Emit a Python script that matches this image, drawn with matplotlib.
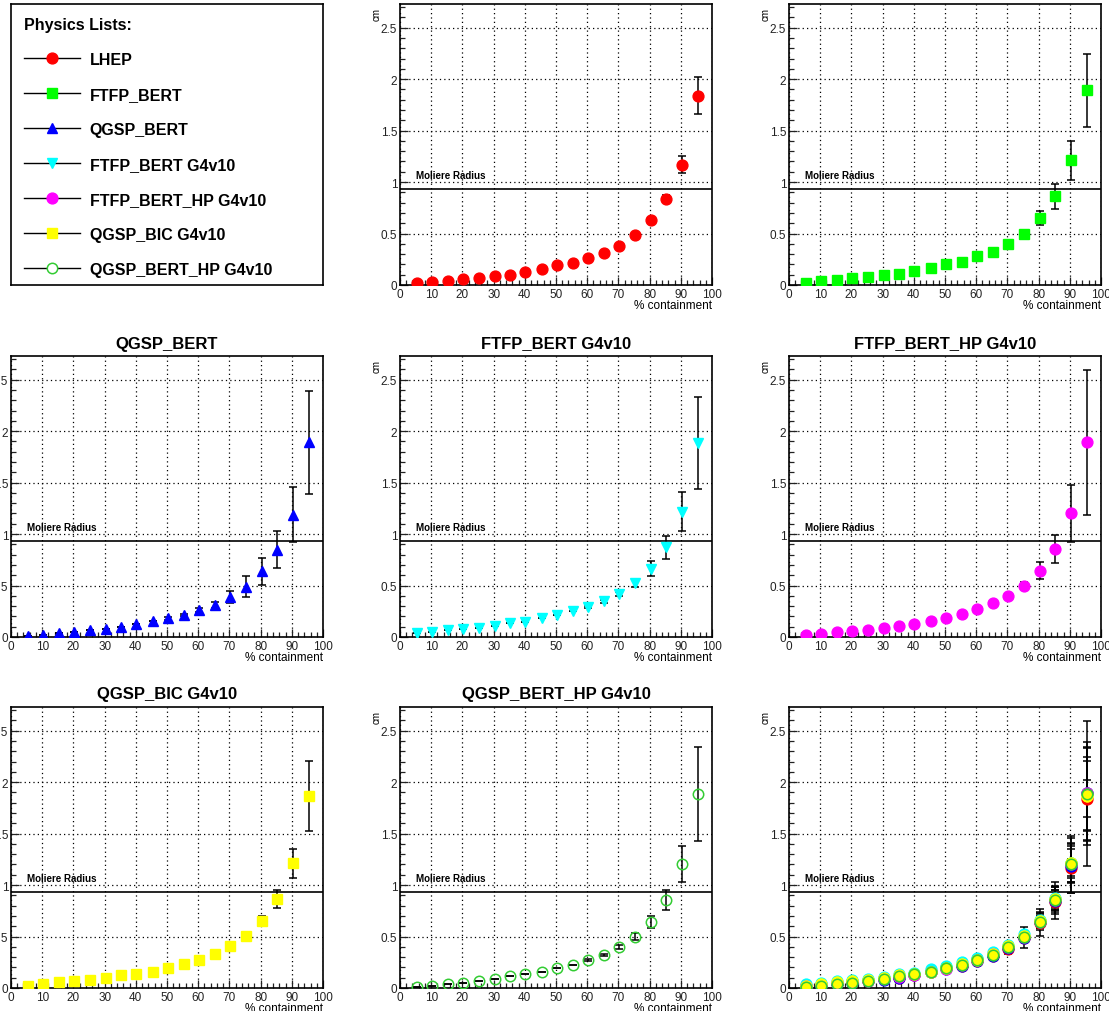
# containment radius vs % containment for several Geant4 physics lists (ROOT-style grid)

import matplotlib.pyplot as plt
from matplotlib.lines import Line2D
from matplotlib.ticker import MultipleLocator, FormatStrFormatter

plt.rcParams['font.family'] = ['Liberation Sans', 'DejaVu Sans']

W, H = 1109, 1012  # output size in pixels

# % containment (x positions)
containment = [5.4, 10.2, 15.3, 20.2, 25.3, 30.3, 35.3, 40.2, 45.4, 50.3,
               55.3, 60.2, 65.3, 70.3, 75.3, 80.4, 85.3, 90.4, 95.6]

names = ['LHEP', 'FTFP_BERT', 'QGSP_BERT', 'FTFP_BERT G4v10',
         'FTFP_BERT_HP G4v10', 'QGSP_BIC G4v10', 'QGSP_BERT_HP G4v10']

# radius in cm
lhep = [0.02, 0.03, 0.04, 0.06, 0.07, 0.09, 0.10, 0.13, 0.155, 0.19,
        0.21, 0.26, 0.31, 0.38, 0.485, 0.63, 0.84, 1.17, 1.84]
ftfp_bert = [0.02, 0.04, 0.05, 0.07, 0.08, 0.10, 0.11, 0.14, 0.17, 0.20,
             0.22, 0.28, 0.32, 0.40, 0.50, 0.65, 0.86, 1.21, 1.89]
qgsp_bert = [0.01, 0.02, 0.04, 0.05, 0.065, 0.08, 0.10, 0.125, 0.155, 0.18,
             0.21, 0.265, 0.31, 0.39, 0.49, 0.64, 0.85, 1.19, 1.89]
ftfp_bert_10 = [0.04, 0.05, 0.065, 0.08, 0.09, 0.11, 0.135, 0.15, 0.18, 0.21,
                0.25, 0.29, 0.345, 0.42, 0.52, 0.665, 0.87, 1.215, 1.885]
ftfp_bert_hp_10 = [0.02, 0.03, 0.045, 0.055, 0.07, 0.09, 0.11, 0.13, 0.16, 0.185,
                   0.225, 0.27, 0.33, 0.40, 0.50, 0.645, 0.855, 1.20, 1.89]
qgsp_bic_10 = [0.02, 0.035, 0.055, 0.065, 0.08, 0.10, 0.125, 0.135, 0.16, 0.19,
               0.235, 0.275, 0.33, 0.405, 0.505, 0.65, 0.865, 1.21, 1.865]
qgsp_bert_hp_10 = [0.01, 0.02, 0.035, 0.05, 0.065, 0.085, 0.115, 0.135, 0.155, 0.19,
                   0.225, 0.27, 0.325, 0.40, 0.50, 0.64, 0.857, 1.20, 1.885]

# errors in cm
lhep_err = [0.0, 0.0, 0.0, 0.0, 0.0, 0.0, 0.0, 0.0, 0.0, 0.0,
            0.0, 0.0, 0.0, 0.01, 0.015, 0.02, 0.03, 0.085, 0.176]
ftfp_bert_err = [0.0, 0.0, 0.0, 0.0, 0.0, 0.0, 0.0, 0.0, 0.0, 0.0,
                 0.0, 0.01, 0.01, 0.02, 0.03, 0.07, 0.12, 0.19, 0.355]
qgsp_bert_err = [0.0, 0.0, 0.0, 0.0, 0.0, 0.0, 0.0, 0.0, 0.0, 0.01,
                 0.01, 0.02, 0.03, 0.06, 0.105, 0.13, 0.18, 0.27, 0.50]
ftfp_bert_10_err = [0.0, 0.0, 0.0, 0.0, 0.0, 0.0, 0.0, 0.0, 0.0, 0.0,
                    0.0, 0.01, 0.01, 0.02, 0.03, 0.07, 0.11, 0.19, 0.45]
ftfp_bert_hp_10_err = [0.0, 0.0, 0.0, 0.0, 0.0, 0.0, 0.0, 0.0, 0.0, 0.0,
                       0.0, 0.01, 0.01, 0.02, 0.03, 0.08, 0.14, 0.28, 0.70]
qgsp_bic_10_err = [0.0, 0.0, 0.0, 0.0, 0.0, 0.0, 0.0, 0.0, 0.0, 0.0,
                   0.0, 0.01, 0.01, 0.02, 0.03, 0.045, 0.085, 0.145, 0.34]
qgsp_bert_hp_10_err = [0.0, 0.0, 0.0, 0.0, 0.0, 0.0, 0.0, 0.0, 0.0, 0.0,
                       0.0, 0.01, 0.01, 0.02, 0.03, 0.06, 0.095, 0.175, 0.455]

values = [lhep, ftfp_bert, qgsp_bert, ftfp_bert_10, ftfp_bert_hp_10,
          qgsp_bic_10, qgsp_bert_hp_10]
errors = [lhep_err, ftfp_bert_err, qgsp_bert_err, ftfp_bert_10_err,
          ftfp_bert_hp_10_err, qgsp_bic_10_err, qgsp_bert_hp_10_err]

moliere_radius = 0.93

colors = ['#ff0000', '#00ff00', '#0000ff', '#00ffff', '#ff00ff', '#ffff00', '#33cc33']
markers = ['o', 's', '^', 'v', 'o', 's', 'o']
msizes = [7.8, 7.8, 7.8, 7.8, 7.8, 7.8, 7.5]
filled = [True, True, True, True, True, True, False]

# pixel layout of the 3x3 canvas
col_left = [11, 400, 789]
row_top = [5, 357, 708]
ax_w, ax_h = 312, 281


def add_panel(fig, col, row):
    left = col_left[col] / W
    bottom = 1 - (row_top[row] + ax_h) / H
    return fig.add_axes([left, bottom, ax_w / W, ax_h / H])


def style_axes(ax, title=None):
    ax.set_xlim(0, 100)
    ax.set_ylim(0, 2.73)
    ax.xaxis.set_major_locator(MultipleLocator(10))
    ax.xaxis.set_minor_locator(MultipleLocator(2))
    ax.yaxis.set_major_locator(MultipleLocator(0.5))
    ax.yaxis.set_minor_locator(MultipleLocator(0.1))
    ax.yaxis.set_major_formatter(FormatStrFormatter('%g'))
    ax.tick_params(which='both', direction='in', top=False, right=False,
                   labelsize=8.5, pad=2, width=0.9, colors='#222222')
    ax.tick_params(which='major', length=6)
    ax.tick_params(which='minor', length=3.5)
    ax.grid(True, which='major', color='black', linestyle=(0, (1, 2.5)), linewidth=0.9)
    for s in ax.spines.values():
        s.set_linewidth(1.2)
    ax.axhline(moliere_radius, color='black', linewidth=1.2, zorder=2)
    ax.text(5, 1.02, 'Moliere Radius', fontsize=7, fontweight='bold', va='bottom')
    ax.text(1.0, -0.07, '% containment', transform=ax.transAxes,
            ha='right', va='center', fontsize=8.5)
    ax.text(-0.074, 0.99, 'cm', transform=ax.transAxes, rotation=90,
            ha='center', va='top', fontsize=7)
    if title:
        ax.text(0.5, 1 + 13 / ax_h, title, transform=ax.transAxes,
                ha='center', va='center', fontsize=12, fontweight='bold')


def draw_series(ax, i, marker=None):
    m = marker or markers[i]
    ax.errorbar(containment, values[i], yerr=errors[i], fmt='none',
                ecolor='black', elinewidth=1.1, capsize=3, capthick=1.1, zorder=3)
    if filled[i]:
        ax.plot(containment, values[i], linestyle='none', marker=m,
                markersize=msizes[i], color=colors[i], markeredgecolor=colors[i], zorder=4)
    else:
        ax.plot(containment, values[i], linestyle='none', marker=m,
                markersize=msizes[i], markerfacecolor='none',
                markeredgecolor=colors[i], markeredgewidth=1.1, zorder=4)


fig = plt.figure(figsize=(W / 100, H / 100), dpi=100)

# legend panel
ax_leg = add_panel(fig, 0, 0)
ax_leg.set_xticks([])
ax_leg.set_yticks([])
for s in ax_leg.spines.values():
    s.set_linewidth(1.2)
handles = []
for i in range(len(names)):
    if filled[i]:
        h = Line2D([], [], color='black', linewidth=1, marker=markers[i],
                   markersize=msizes[i], markerfacecolor=colors[i], markeredgecolor=colors[i])
    else:
        h = Line2D([], [], color='black', linewidth=1, marker=markers[i],
                   markersize=msizes[i], markerfacecolor='white',
                   markeredgecolor=colors[i], markeredgewidth=1.1)
    handles.append(h)
leg = ax_leg.legend(handles, names, loc='upper left', bbox_to_anchor=(0, 1),
                    borderaxespad=0, frameon=False, numpoints=1,
                    prop={'size': 11.5, 'weight': 'bold'},
                    title='Physics Lists:', title_fontproperties={'size': 11.5, 'weight': 'bold'},
                    alignment='left', handlelength=3.5, handletextpad=0.6,
                    labelspacing=1.25, borderpad=0.82)

# single-list panels
panel_pos = [(1, 0), (2, 0), (0, 1), (1, 1), (2, 1), (0, 2), (1, 2)]
for i, (c, r) in enumerate(panel_pos):
    ax = add_panel(fig, c, r)
    style_axes(ax, names[i])
    draw_series(ax, i)

# all lists overlaid
ax_all = add_panel(fig, 2, 2)
style_axes(ax_all)
for i in range(len(names)):
    draw_series(ax_all, i, marker='o')
ax_all.plot(containment, qgsp_bic_10, linestyle='none', marker='o', markersize=7.5,
            color=colors[5], zorder=5)
ax_all.plot(containment, qgsp_bert_hp_10, linestyle='none', marker='o', markersize=7.5,
            markerfacecolor='none', markeredgecolor=colors[6], markeredgewidth=1.1, zorder=6)

fig.savefig('out.png', dpi=100)
